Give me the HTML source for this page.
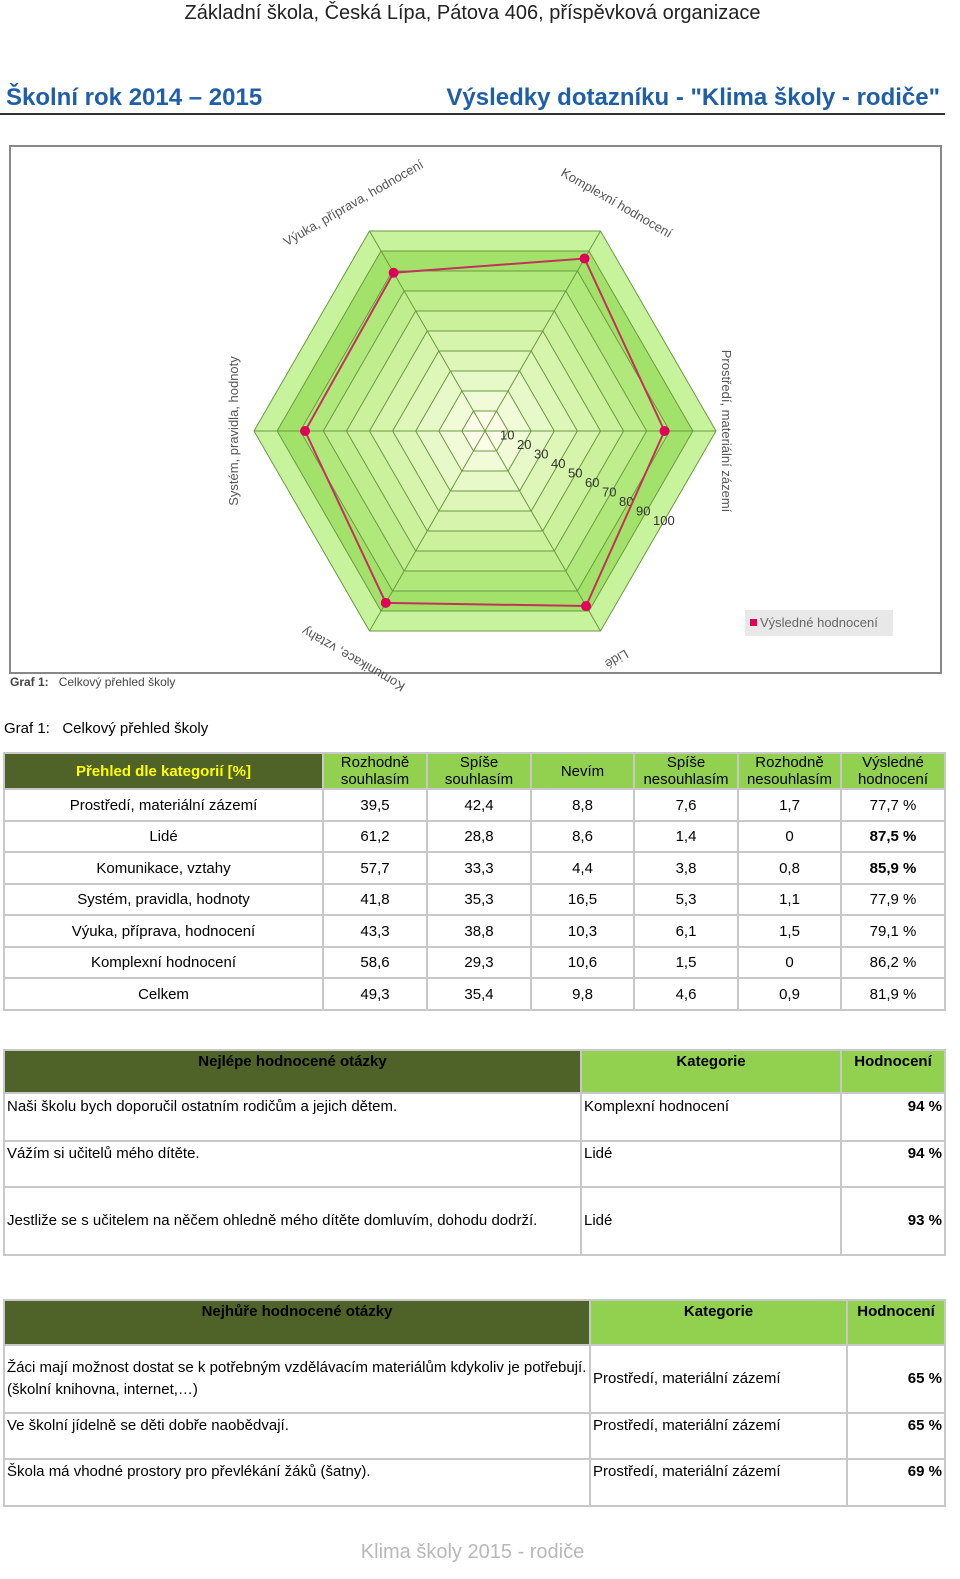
<!DOCTYPE html>
<html><head><meta charset="utf-8">
<style>
*{margin:0;padding:0;box-sizing:border-box}
body{width:960px;height:1579px;position:relative;background:#fff;font-family:"Liberation Sans",sans-serif;color:#000;overflow:hidden}
.abs{position:absolute}
table{border-collapse:collapse;position:absolute;table-layout:fixed;font-size:15px}
td{border:2px solid #c8c8c8;padding:0 2px}
.dk{background:#4f6228}
.lg{background:#92d050}
</style></head><body>
<div class="abs" style="left:0;top:0;width:945px;text-align:center;font-size:20px;color:#222;line-height:26px">Základní škola, Česká Lípa, Pátova 406, příspěvková organizace</div>
<div class="abs" style="left:6px;top:84px;font-size:24px;font-weight:bold;color:#1f5ea8">Školní rok 2014 – 2015</div>
<div class="abs" style="right:20px;top:84px;font-size:24px;font-weight:bold;color:#1f5ea8">Výsledky dotazníku - "Klima školy - rodiče"</div>
<div class="abs" style="left:0;top:113px;width:945px;height:2px;background:#333"></div>

<svg class="abs" style="left:0;top:140px" width="960" height="560" id="radar">
<rect x="10" y="6" width="931" height="527" fill="#fff" stroke="#888" stroke-width="2"/>
</svg>
<div class="abs" style="left:10px;top:675px;font-size:12px;color:#444"><b>Graf 1:</b>&nbsp;&nbsp; Celkový přehled školy</div>

<div class="abs" style="left:4px;top:720px;font-size:15px">Graf 1:&nbsp;&nbsp; Celkový přehled školy</div>

<table style="left:3px;top:752px;width:941px;text-align:center">
<colgroup><col style="width:319px"><col style="width:104px"><col style="width:104px"><col style="width:103px"><col style="width:104px"><col style="width:103px"><col style="width:104px"></colgroup>
<tr style="height:36px;line-height:17px"><td class="dk" style="color:#ffff00;font-weight:bold">Přehled dle kategorií [%]</td><td class="lg">Rozhodně souhlasím</td><td class="lg">Spíše souhlasím</td><td class="lg">Nevím</td><td class="lg">Spíše nesouhlasím</td><td class="lg">Rozhodně nesouhlasím</td><td class="lg">Výsledné hodnocení</td></tr>
<tr style="height:32px"><td>Prostředí, materiální zázemí</td><td>39,5</td><td>42,4</td><td>8,8</td><td>7,6</td><td>1,7</td><td>77,7 %</td></tr>
<tr style="height:31px"><td>Lidé</td><td>61,2</td><td>28,8</td><td>8,6</td><td>1,4</td><td>0</td><td><b>87,5 %</b></td></tr>
<tr style="height:32px"><td>Komunikace, vztahy</td><td>57,7</td><td>33,3</td><td>4,4</td><td>3,8</td><td>0,8</td><td><b>85,9 %</b></td></tr>
<tr style="height:31px"><td>Systém, pravidla, hodnoty</td><td>41,8</td><td>35,3</td><td>16,5</td><td>5,3</td><td>1,1</td><td>77,9 %</td></tr>
<tr style="height:32px"><td>Výuka, příprava, hodnocení</td><td>43,3</td><td>38,8</td><td>10,3</td><td>6,1</td><td>1,5</td><td>79,1 %</td></tr>
<tr style="height:31px"><td>Komplexní hodnocení</td><td>58,6</td><td>29,3</td><td>10,6</td><td>1,5</td><td>0</td><td>86,2 %</td></tr>
<tr style="height:32px"><td>Celkem</td><td>49,3</td><td>35,4</td><td>9,8</td><td>4,6</td><td>0,9</td><td>81,9 %</td></tr>
</table>

<table style="left:3px;top:1049px;width:941px">
<colgroup><col style="width:577px"><col style="width:260px"><col style="width:104px"></colgroup>
<tr style="height:43px;vertical-align:top;font-weight:bold;text-align:center"><td class="dk" style="padding-top:2px">Nejlépe hodnocené otázky</td><td class="lg" style="padding-top:2px">Kategorie</td><td class="lg" style="padding-top:2px">Hodnocení</td></tr>
<tr style="height:48px;vertical-align:top"><td style="padding-top:4px">Naši školu bych doporučil ostatním rodičům a jejich dětem.</td><td style="padding-top:4px">Komplexní hodnocení</td><td style="padding-top:4px;text-align:right;font-weight:bold">94 %</td></tr>
<tr style="height:46px;vertical-align:top"><td style="padding-top:3px">Vážím si učitelů mého dítěte.</td><td style="padding-top:3px">Lidé</td><td style="padding-top:3px;text-align:right;font-weight:bold">94 %</td></tr>
<tr style="height:68px;line-height:22px"><td>Jestliže se s učitelem na něčem ohledně mého dítěte domluvím, dohodu dodrží.</td><td>Lidé</td><td style="text-align:right;font-weight:bold">93 %</td></tr>
</table>

<table style="left:3px;top:1299px;width:941px">
<colgroup><col style="width:586px"><col style="width:257px"><col style="width:98px"></colgroup>
<tr style="height:45px;vertical-align:top;font-weight:bold;text-align:center"><td class="dk" style="padding-top:2px">Nejhůře hodnocené otázky</td><td class="lg" style="padding-top:2px">Kategorie</td><td class="lg" style="padding-top:2px">Hodnocení</td></tr>
<tr style="height:68px;line-height:22px"><td>Žáci mají možnost dostat se k potřebným vzdělávacím materiálům kdykoliv je potřebují. (školní knihovna, internet,…)</td><td>Prostředí, materiální zázemí</td><td style="text-align:right;font-weight:bold">65 %</td></tr>
<tr style="height:46px;vertical-align:top"><td style="padding-top:3px">Ve školní jídelně se děti dobře naobědvají.</td><td style="padding-top:3px">Prostředí, materiální zázemí</td><td style="padding-top:3px;text-align:right;font-weight:bold">65 %</td></tr>
<tr style="height:47px;vertical-align:top"><td style="padding-top:3px">Škola má vhodné prostory pro převlékání žáků (šatny).</td><td style="padding-top:3px">Prostředí, materiální zázemí</td><td style="padding-top:3px;text-align:right;font-weight:bold">69 %</td></tr>
</table>

<div class="abs" style="left:0;top:1541px;width:945px;text-align:center;font-size:20px;color:#b8b8b8">Klima školy 2015 - rodiče</div>

<script>
const categories = ["Prostředí, materiální zázemí","Lidé","Komunikace, vztahy","Systém, pravidla, hodnoty","Výuka, příprava, hodnocení","Komplexní hodnocení"];
const values = [77.7, 87.5, 85.9, 77.9, 79.1, 86.2];
const tickLabels = [10,20,30,40,50,60,70,80,90,100];
const maxValue = 100;

const NS = "http://www.w3.org/2000/svg";
const svg = document.getElementById("radar");
const cx = 485, cy = 291, R = 231;
function pt(i, v){ const a = i*Math.PI/3; const r = v/maxValue*R; return [cx + r*Math.cos(a), cy + r*Math.sin(a)]; }
function mk(tag, attrs){ const e = document.createElementNS(NS, tag); for (const k in attrs) e.setAttribute(k, attrs[k]); svg.appendChild(e); return e; }
const bandColors = ["#fbfde9","#f1fbd8","#e8f9c9","#dff6b9","#d6f4ab","#ccf19d","#c0ed8d","#b1e87b","#a3e26a","#c8f39d"];
for (let k = tickLabels.length-1; k >= 0; k--) {
  const pts = categories.map((c,i)=>pt(i, tickLabels[k]).join(",")).join(" ");
  const p = mk("polygon", {points: pts, fill: bandColors[k], stroke: "#6a9a40", "stroke-width": 1});
  
  
}
categories.forEach((c,i)=>{
  const [x,y] = pt(i, maxValue);
  const l = mk("line", {x1: cx, y1: cy, x2: x, y2: y, stroke: "#6a9a40", "stroke-width": 1});
  
  
});
tickLabels.forEach((t,k)=>{
  const n = k+1;
  const tx = mk("text", {x: cx + 17*n - 2, y: cy + 9.5*n - 1, "font-size": 13, fill: "#333", "font-family": "Liberation Sans, sans-serif"});
  
  
  tx.textContent = t;
});
const series = mk("polygon", {points: values.map((v,i)=>pt(i,v).join(",")).join(" "), fill: "none", stroke: "#c0335a", "stroke-width": 2});


values.forEach((v,i)=>{
  const [x,y] = pt(i,v);
  const c = mk("circle", {cx: x, cy: y, r: 5, fill: "#e0005a"});
  
  
});
const labelR = R + 28;
const rots = [90, 150, 210, -90, -30, 30];
categories.forEach((c,i)=>{
  const a = i*Math.PI/3 + (i%3===0 ? 0 : 0);
  let [x,y] = [cx + labelR*Math.cos(a), cy + labelR*Math.sin(a)];
  if (i===0) x = cx + R + 6; if (i===3) x = cx - R - 16;
  const tx = mk("text", {x: x, y: y, "font-size": 13, fill: "#555", "text-anchor": "middle", "font-family": "Liberation Sans, sans-serif", transform: "rotate(" + rots[i] + " " + x + " " + y + ")"});
  
  
  tx.textContent = c;
});
const lg = mk("rect", {x: 745, y: 470, width: 148, height: 26, fill: "#e8e8e8"});


const ls = mk("rect", {x: 750, y: 479, width: 7, height: 7, fill: "#e0005a"});


const lt = mk("text", {x: 760, y: 487, "font-size": 13, fill: "#666", "font-family": "Liberation Sans, sans-serif"});


lt.textContent = "Výsledné hodnocení";
</script>
</body></html>
